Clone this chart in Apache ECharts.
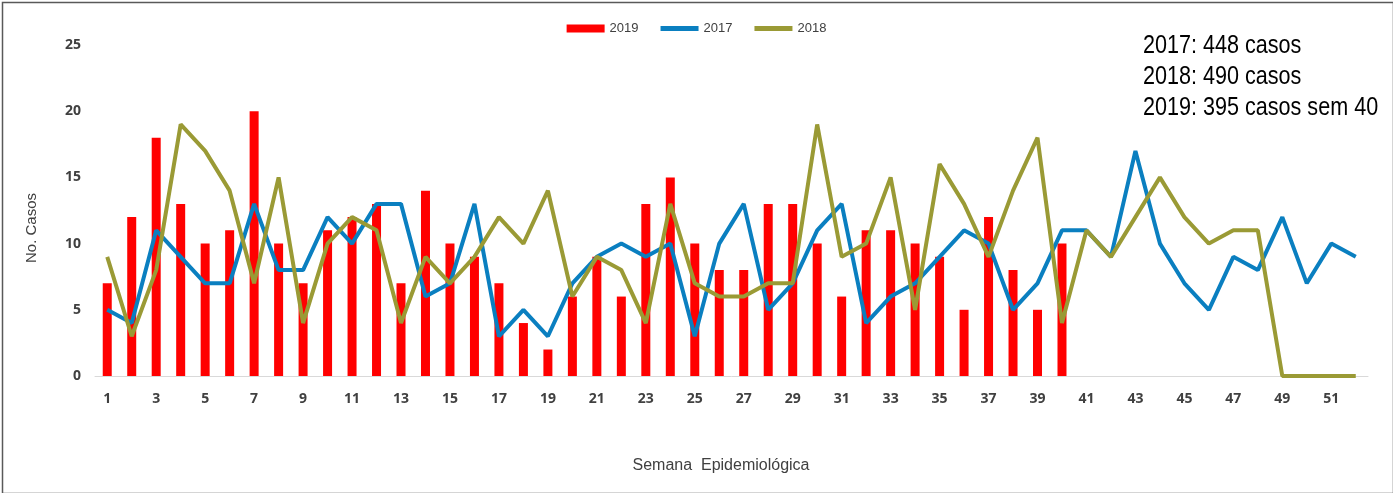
<!DOCTYPE html>
<html>
<head>
<meta charset="utf-8">
<script src="https://cdn.jsdelivr.net/npm/echarts@6/dist/echarts.min.js"></script>
<style>
  html, body { margin: 0; padding: 0; background: #fff; }
  #main { width: 1393px; height: 493px; }
</style>
</head>
<body>
<div id="main"></div>
<script>
// semanas epidemiologicas 1..52
var semanas = [];
for (var s = 1; s <= 52; s++) semanas.push(String(s));

// casos por semana
var casos2019 = [7,12,18,13,10,11,20,10,7,11,12,13,7,14,10,9,7,4,2,6,9,6,13,15,10,8,8,13,13,10,6,11,11,10,9,5,12,8,5,10];
var casos2017 = [5,4,11,9,7,7,13,8,8,12,10,13,13,6,7,13,3,5,3,7,9,10,9,10,3,10,13,5,7,11,13,4,6,7,9,11,10,5,7,11,11,9,17,10,7,5,9,8,12,7,10,9];
var casos2018 = [9,3,8,19,17,14,7,15,4,10,12,11,4,9,7,9,12,10,14,6,9,8,4,13,7,6,6,7,7,19,9,10,15,5,16,13,9,14,18,4,11,9,12,15,12,10,11,11,0,0,0,0];

var resumo = ['2017: 448 casos', '2018: 490 casos', '2019: 395 casos sem 40'];

var fonte = '"Liberation Sans Narrow", "Liberation Sans"';
var iconeLinha = 'path://M0,0h38v5h-38z';

var myChart = echarts.init(document.getElementById('main'));
var option = {
    animation: false,
    textStyle: { fontFamily: 'Liberation Sans' },
    legend: {
        top: 17,
        left: 'center',
        itemWidth: 38,
        itemHeight: 8,
        itemGap: 22,
        textStyle: { fontFamily: fonte, fontSize: 13, color: '#404040' },
        data: [
            { name: '2019', icon: 'rect' },
            { name: '2017', icon: iconeLinha },
            { name: '2018', icon: iconeLinha }
        ]
    },
    grid: { left: 95, right: 25, top: 45, bottom: 117 },
    xAxis: {
        type: 'category',
        data: semanas,
        boundaryGap: true,
        axisLine: { lineStyle: { color: '#d9d9d9', width: 1 } },
        axisTick: { show: false },
        axisLabel: { interval: 1, fontWeight: 'bold', fontSize: 14, color: '#404040', margin: 16, fontFamily: 'Open Sans, Liberation Sans' }
    },
    yAxis: {
        type: 'value',
        min: 0, max: 25, interval: 5,
        splitLine: { show: false },
        axisLine: { show: false },
        axisTick: { show: false },
        axisLabel: { fontWeight: 'bold', fontSize: 14, color: '#404040', margin: 14, fontFamily: 'Open Sans, Liberation Sans' }
    },
    graphic: [
        { type: 'rect', left: 0, top: 0, shape: { width: 1391, height: 491 },
          style: { fill: 'none', stroke: '#595959', lineWidth: 1.5 } },
        // resumo no canto, fonte estreita simulada com scaleX
        { type: 'text', x: 1143, y: 46, scaleX: 0.83,
          style: { text: resumo[0], font: '26px ' + fonte, fill: '#000', verticalAlign: 'middle' } },
        { type: 'text', x: 1143, y: 77, scaleX: 0.83,
          style: { text: resumo[1], font: '26px ' + fonte, fill: '#000', verticalAlign: 'middle' } },
        { type: 'text', x: 1143, y: 108, scaleX: 0.83,
          style: { text: resumo[2], font: '26px ' + fonte, fill: '#000', verticalAlign: 'middle' } },
        { type: 'text', x: 32, y: 228, rotation: Math.PI / 2,
          style: { text: 'No. Casos', font: '15px ' + fonte, fill: '#404040', align: 'center', verticalAlign: 'middle' } },
        { type: 'text', x: 721, y: 466,
          style: { text: 'Semana  Epidemiológica', font: '16px ' + fonte, fill: '#404040', align: 'center', verticalAlign: 'middle' } }
    ],
    series: [
        {
            name: '2019', type: 'bar', data: casos2019, barWidth: 9,
            itemStyle: { color: '#ff0000' }
        },
        {
            name: '2017', type: 'line', data: casos2017, showSymbol: false, symbol: 'none',
            lineStyle: { color: '#0a7fc0', width: 4 }, itemStyle: { color: '#0a7fc0' }
        },
        {
            name: '2018', type: 'line', data: casos2018, showSymbol: false, symbol: 'none',
            lineStyle: { color: '#9a9a35', width: 4 }, itemStyle: { color: '#9a9a35' }
        }
    ]
};
myChart.setOption(option);
</script>
</body>
</html>
